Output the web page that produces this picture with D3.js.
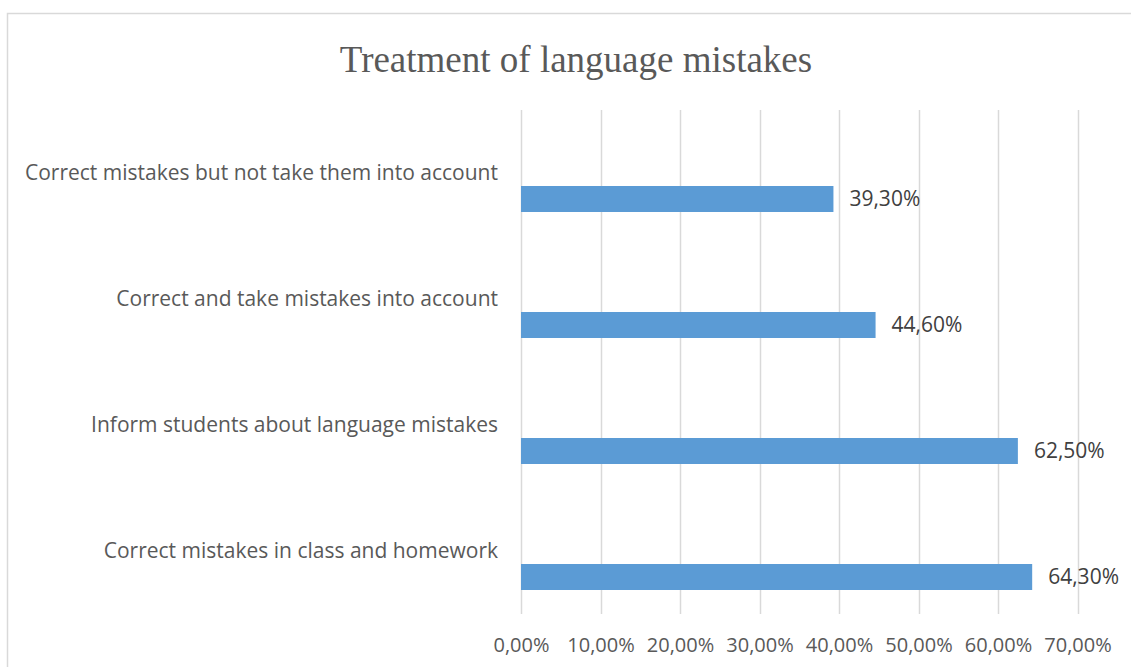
<!DOCTYPE html>
<html>
<head>
<meta charset="utf-8">
<script src="https://cdn.jsdelivr.net/npm/d3@7"></script>
<style>
  html, body { margin: 0; padding: 0; background: #fff; }
  svg { display: block; }
</style>
</head>
<body>
<svg id="chart" width="1131" height="667"></svg>
<script>
// Chart data
const categories = [
  "Correct mistakes but not take them into account",
  "Correct and take mistakes into account",
  "Inform students about language mistakes",
  "Correct mistakes in class and homework"
];
const values = [39.3, 44.6, 62.5, 64.3];
const tickValues = [0, 10, 20, 30, 40, 50, 60, 70];
const titleText = "Treatment of language mistakes";

const svg = d3.select("#chart");
const W = 1131, H = 667;
const labelFont = "'Open Sans', 'Noto Sans', sans-serif";

// Chart frame
svg.append("rect")
  .attr("x", 7.5).attr("y", 13.5)
  .attr("width", W + 20).attr("height", H + 20)
  .attr("fill", "#fff")
  .attr("stroke", "#d9d9d9").attr("stroke-width", 1.5);

// Plot area
const plot = { left: 521, right: 1077.5, top: 110, bottom: 614 };

const x = d3.scaleLinear().domain([0, 70]).range([plot.left, plot.right]);
const y = d3.scaleBand().domain(categories).range([plot.top, plot.bottom]).padding(0);

const fmt = v => v.toFixed(2).replace(".", ",") + "%";

// Title
svg.append("text")
  .attr("x", 576).attr("y", 72)
  .attr("text-anchor", "middle")
  .attr("font-family", "'Liberation Serif', 'Times New Roman', serif")
  .attr("font-size", 37)
  .attr("fill", "#595959")
  .text(titleText);

// Vertical gridlines
svg.append("g")
  .selectAll("line")
  .data(tickValues)
  .join("line")
  .attr("x1", d => Math.round(x(d)) + 0.5)
  .attr("x2", d => Math.round(x(d)) + 0.5)
  .attr("y1", plot.top).attr("y2", plot.bottom)
  .attr("stroke", "#d9d9d9").attr("stroke-width", 1.5);

// X axis tick labels
const xAxis = d3.axisBottom(x)
  .tickValues(tickValues)
  .tickFormat(fmt)
  .tickSize(0)
  .tickPadding(0);
const gx = svg.append("g")
  .attr("transform", `translate(0, ${plot.bottom + 24})`)
  .call(xAxis);
gx.select(".domain").remove();
gx.selectAll("text")
  .attr("font-family", labelFont)
  .attr("font-size", 20)
  .attr("fill", "#595959");

// Category labels
const yAxis = d3.axisLeft(y).tickSize(0).tickPadding(0);
const gy = svg.append("g")
  .attr("transform", `translate(${plot.left - 23}, 0)`)
  .call(yAxis);
gy.select(".domain").remove();
gy.selectAll("text")
  .attr("font-family", labelFont)
  .attr("font-size", 21)
  .attr("fill", "#595959");

// Bars sit in the lower half of each category band
const barH = 26;
const barOffset = 13;
svg.append("g")
  .selectAll("rect")
  .data(values)
  .join("rect")
  .attr("x", x(0))
  .attr("y", (d, i) => y(categories[i]) + y.bandwidth() / 2 + barOffset)
  .attr("width", d => x(d) - x(0))
  .attr("height", barH)
  .attr("fill", "#5b9bd5");

// Value labels
svg.append("g")
  .selectAll("text")
  .data(values)
  .join("text")
  .attr("x", d => x(d) + 16)
  .attr("y", (d, i) => y(categories[i]) + y.bandwidth() / 2 + barOffset + barH / 2)
  .attr("dy", "0.35em")
  .attr("font-family", labelFont)
  .attr("font-size", 21)
  .attr("fill", "#404040")
  .text(d => fmt(d));
</script>
</body>
</html>
